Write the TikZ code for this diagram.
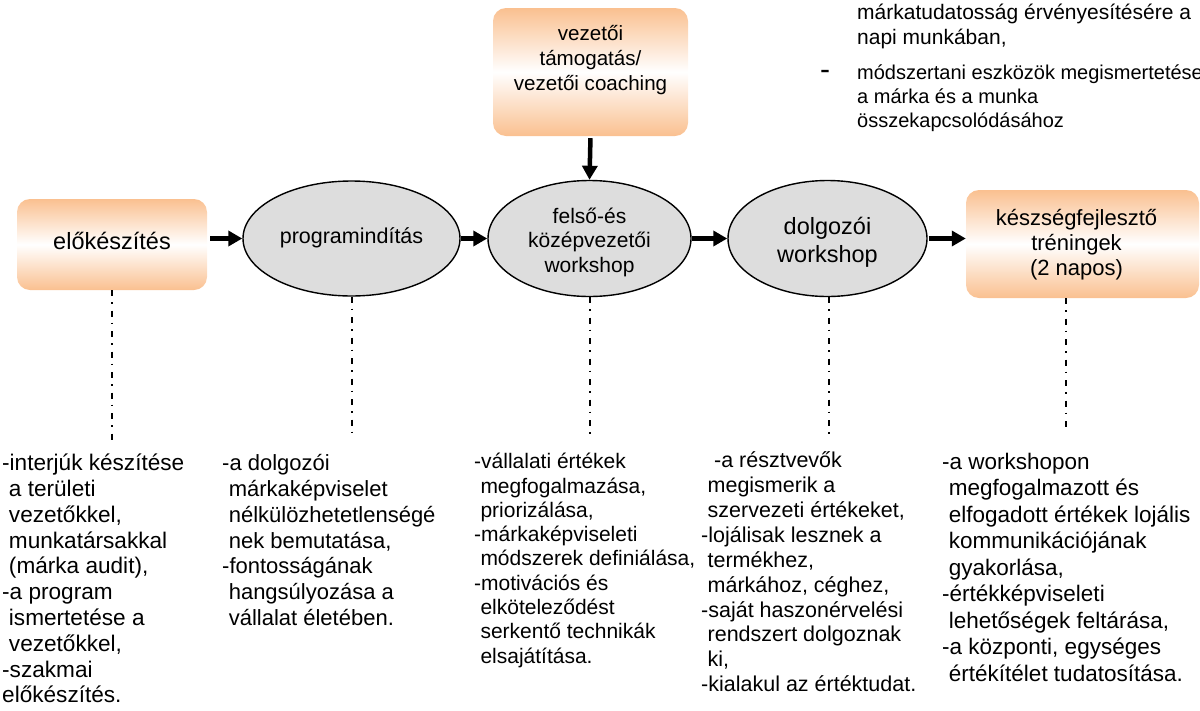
\documentclass[tikz,border=0pt]{standalone}
\usepackage{fontspec}
\setmainfont{Liberation Sans}
\usetikzlibrary{shapes.geometric,arrows.meta}
\definecolor{orng}{RGB}{250,192,144}
\definecolor{ellfill}{RGB}{221,221,221}
\newcommand\ind{\hspace*{0.3em}}
\newcommand\fs[2]{\fontsize{#1}{#2}\selectfont}
\tikzset{
  obox/.style={rounded corners=13pt, top color=orng, bottom color=orng, middle color=white, draw=none, inner sep=0pt},
  oval/.style={ellipse, draw=black, line width=1.4pt, fill=ellfill, inner sep=0pt},
  arr/.style={line width=4.5pt, -{Triangle[length=14pt,width=15pt]}},
  ddline/.style={line width=2pt, dash pattern=on 6pt off 6pt on 1.5pt off 7pt},
  desc/.style={anchor=north west, inner sep=0pt, align=left},
  lbl/.style={inner sep=0pt, align=center},
}
\begin{document}
\begin{tikzpicture}[x=1pt,y=-1pt]
\useasboundingbox (0,0) rectangle (1200,710);

% process boxes and ovals
\node[obox, minimum width=190pt, minimum height=91pt] (pre) at (112,244.5) {};
\node[lbl, font=\fs{23.5}{28}] (pretxt) at ([yshift=4pt]pre.center) {előkészítés};

\node[oval, minimum width=217pt, minimum height=115pt] (prog) at (351.5,238.5) {};
\node[lbl, font=\fs{21.5}{25}] (progtxt) at ([yshift=1pt]prog.center) {programindítás};
\node[oval, minimum width=203pt, minimum height=116pt] (ws1) at (589.5,238.5) {};
\node[lbl, font=\fs{21}{24.5}] (ws1txt) at ([yshift=-3.5pt]ws1.center) {felső-és\\középvezetői\\workshop};
\node[oval, minimum width=199pt, minimum height=116pt] (ws2) at (827.5,238.5) {};
\node[lbl, font=\fs{23.5}{28}] (ws2txt) at ([yshift=-4pt]ws2.center) {dolgozói\\workshop};

\node[obox, minimum width=233pt, minimum height=108pt] (train) at (1082.5,244) {};
\node[lbl, font=\fs{22}{25}] (traintxt) at ([xshift=-6pt,yshift=-1pt]train.center) {készségfejlesztő\\tréningek\\(2 napos)};

\node[obox, minimum width=195pt, minimum height=128pt] (lead) at (590.5,72) {};
\node[lbl, font=\fs{20.6}{25}] (leadtxt) at ([yshift=12pt]lead.center) {vezetői\\támogatás/\\vezetői coaching};

% arrows
\draw[arr, shorten <=3pt] (pre.east |- prog.west) -- (prog.west);
\draw[arr] (prog.east) -- (ws1.west);
\draw[arr] (ws1.east) -- (ws2.west);
\draw[arr, shorten <=1pt] (ws2.east) -- (ws2.east -| train.west);
\draw[arr, shorten <=2pt] (lead.south) -- (ws1.north);

% dash-dot leaders
\coordinate (e1) at (112,440);
\coordinate (e2) at (351.5,440);
\coordinate (e3) at (589.5,440);
\coordinate (e4) at (829,440);
\coordinate (e5) at (1066,430);
\draw[ddline] (pre.south) -- (e1);
\draw[ddline] (prog.south) -- (e2);
\draw[ddline] (ws1.south) -- (e3);
\draw[ddline] (ws2.south -| e4) -- (e4);
\draw[ddline] (train.south -| e5) -- (e5);

% descriptions
\node[desc, font=\fs{22.6}{25.8}] (d1) at (2,452.5) {\strut-interjúk készítése\\\ind a területi\\\ind vezetőkkel,\\\ind munkatársakkal\\\ind (márka audit),\\-a program\\\ind ismertetése a\\\ind vezetőkkel,\\-szakmai\\előkészítés.};

\node[desc, font=\fs{22}{25.8}] (d2) at (222,452.5) {\strut-a dolgozói\\\ind márkaképviselet\\\ind nélkülözhetetlenségé\\\ind nek bemutatása,\\-fontosságának\\\ind hangsúlyozása a\\\ind vállalat életében.};

\node[desc, font=\fs{21}{24.3}] (d3) at (474,451.5) {\strut-vállalati értékek\\\ind megfogalmazása,\\\ind priorizálása,\\-márkaképviseleti\\\ind módszerek definiálása,\\-motivációs és\\\ind elköteleződést\\\ind serkentő technikák\\\ind elsajátítása.};

\node[desc, font=\fs{21.5}{24.9}] (d4) at (701,450) {\strut\ind\ind-a résztvevők\\\ind megismerik a\\\ind szervezeti értékeket,\\-lojálisak lesznek a\\\ind termékhez,\\\ind márkához, céghez,\\-saját haszonérvelési\\\ind rendszert dolgoznak\\\ind ki,\\-kialakul az értéktudat.};

\node[desc, font=\fs{22.5}{26.5}] (d5) at (942,450.5) {\strut-a workshopon\\\ind megfogalmazott és\\\ind elfogadott értékek lojális\\\ind kommunikációjának\\\ind gyakorlása,\\-értékképviseleti\\\ind lehetőségek feltárása,\\-a központi, egységes\\\ind értékítélet tudatosítása.};

% top right text
\node[desc, font=\fs{21}{25}] (tr1) at (857,2) {\strut márkatudatosság érvényesítésére a\\napi munkában,};
\node[anchor=base west, inner sep=0pt, font=\fs{30}{30}] (dash2) at (820,79) {-};
\node[desc, font=\fs{20}{24}] (tr2) at (857,62.2) {\strut módszertani eszközök megismertetése\\a márka és a munka\\összekapcsolódásához};
\end{tikzpicture}
\end{document}
